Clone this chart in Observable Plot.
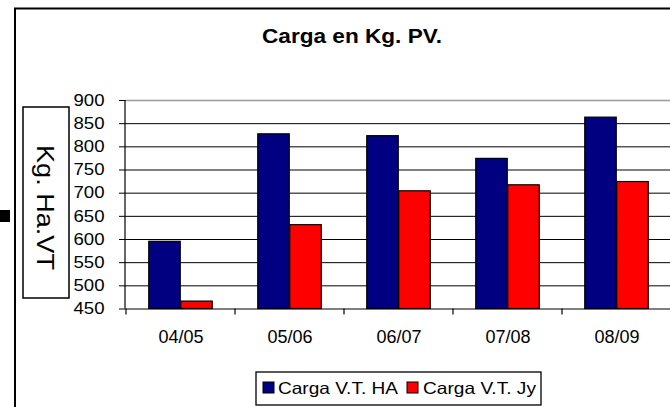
<!DOCTYPE html>
<html>
<head>
<meta charset="utf-8">
<script src="https://cdn.jsdelivr.net/npm/d3@7"></script>
<script src="https://cdn.jsdelivr.net/npm/@observablehq/plot@0.6"></script>
<style>
  html, body { margin: 0; padding: 0; background: #fff; }
  #chart { width: 670px; height: 407px; overflow: hidden; }
  svg { font-family: "Liberation Sans", Arial, sans-serif; color: black; }
</style>
</head>
<body>
<div id="chart"></div>
<script>
// ---- data ----
const seasons = ["04/05", "05/06", "06/07", "07/08", "08/09"];
const cargaHA = [595, 827, 823, 774, 863];
const cargaJy = [466, 631, 704, 717, 724];
const yTicks = [450, 500, 550, 600, 650, 700, 750, 800, 850, 900];
const seriesNames = ["Carga V.T. HA", "Carga V.T. Jy"];
const seriesColors = ["#000080", "#FF0000"];
const chartTitle = "Carga en Kg. PV.";
const yTitle = "Kg. Ha.VT";

const rows = seasons.map((s, i) => ({season: s, ha: cargaHA[i], jy: cargaJy[i]}));
const base = yTicks[0];
const bw = (672.5 - 125) / seasons.length;
const gap = (bw - 64) / 2;

const plot = Plot.plot({
  width: 670,
  height: 407,
  marginLeft: 125,
  marginRight: 0,
  marginTop: 100,
  marginBottom: 98.5,
  x: {domain: seasons, range: [125, 672.5], padding: 0},
  y: {domain: [450, 900]},
  marks: [
    Plot.ruleY(yTicks.filter(v => v > 450 && v < 900), {stroke: "black", strokeWidth: 1}),
    Plot.ruleY([900], {stroke: "#9a9a9a", strokeWidth: 1.5}),
    Plot.barY(rows, {x: "season", y1: () => base, y2: "ha", fill: seriesColors[0], stroke: "black", strokeWidth: 1.2, insetLeft: gap, insetRight: bw - gap - 32}),
    Plot.barY(rows, {x: "season", y1: () => base, y2: "jy", fill: seriesColors[1], stroke: "black", strokeWidth: 1.2, insetLeft: gap + 32, insetRight: gap}),
    Plot.ruleY([450], {stroke: "black", strokeWidth: 1.2}),
    Plot.axisY(yTicks, {tickSize: 6, tickPadding: 15, fontSize: 16.5}),
    Plot.axisX({tickSize: 0, tickPadding: 21, fontSize: 18})
  ]
});

document.getElementById("chart").appendChild(plot);

const svg = d3.select(plot);
const xs = plot.scale("x");
const ys = plot.scale("y");
const y0 = ys.apply(450), yTop = ys.apply(900);

// stretch y tick labels horizontally (reference is wider-set)
svg.selectAll("text").each(function () {
  if (/^\d{3}$/.test(this.textContent)) {
    d3.select(this).attr("textLength", 31).attr("lengthAdjust", "spacingAndGlyphs");
  }
});

const deco = svg.append("g").attr("text-anchor", "start");
// y axis line
deco.append("line").attr("x1", 125).attr("x2", 125).attr("y1", yTop).attr("y2", y0)
  .attr("stroke", "black").attr("stroke-width", 1.2);
// x axis boundary ticks
seasons.forEach(s => {
  const xx = xs.apply(s);
  deco.append("line").attr("x1", xx).attr("x2", xx).attr("y1", y0).attr("y2", y0 + 6)
    .attr("stroke", "black").attr("stroke-width", 1.2);
});
// outer frame
deco.append("path").attr("d", "M15,407V8.5H670").attr("fill", "none")
  .attr("stroke", "black").attr("stroke-width", 2);
// small black marker at left
deco.append("rect").attr("x", 0).attr("y", 210).attr("width", 10).attr("height", 12).attr("fill", "black");
// title
deco.append("text").attr("x", 352).attr("y", 43.3).attr("text-anchor", "middle")
  .attr("font-size", 19.5).attr("font-weight", "bold").attr("fill", "black")
  .attr("textLength", 180).attr("lengthAdjust", "spacingAndGlyphs").text(chartTitle);
// y title box
deco.append("rect").attr("x", 23).attr("y", 107).attr("width", 46).attr("height", 191)
  .attr("fill", "white").attr("stroke", "black").attr("stroke-width", 1.5);
deco.append("text").attr("transform", "translate(37,207.5) rotate(90)").attr("text-anchor", "middle")
  .attr("font-size", 24).attr("fill", "black")
  .attr("textLength", 125).attr("lengthAdjust", "spacingAndGlyphs").text(yTitle);
// legend
deco.append("rect").attr("x", 256).attr("y", 372).attr("width", 285).attr("height", 33)
  .attr("fill", "white").attr("stroke", "black").attr("stroke-width", 1.3);
const legItems = [
  {sx: 263, tx: 278, len: 120},
  {sx: 407, tx: 423, len: 113}
];
legItems.forEach((it, i) => {
  deco.append("rect").attr("x", it.sx).attr("y", 382).attr("width", 11).attr("height", 11)
    .attr("fill", seriesColors[i]).attr("stroke", "black").attr("stroke-width", 1);
  deco.append("text").attr("x", it.tx).attr("y", 393.5).attr("text-anchor", "start")
    .attr("font-size", 16.5).attr("fill", "black")
    .attr("textLength", it.len).attr("lengthAdjust", "spacingAndGlyphs").text(seriesNames[i]);
});
</script>
</body>
</html>
